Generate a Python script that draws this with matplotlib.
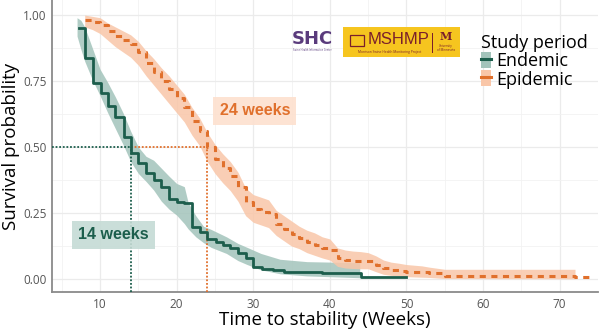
import matplotlib.pyplot as plt
from matplotlib.patches import Patch, Rectangle
from matplotlib.lines import Line2D
from matplotlib.ticker import MultipleLocator

plt.rcParams['font.family'] = ['Open Sans', 'DejaVu Sans']

# endemic Kaplan-Meier steps
end_t = [7.2, 8.0, 9.1, 10.1, 11.1, 12.0, 13.1, 14.0, 15.0, 16.0, 17.0, 18.0, 19.0,
         20.0, 21.0, 22.0, 23.0, 24.0, 25.2, 26.1, 27.0, 28.0, 29.0, 30.0, 31.1,
         32.6, 34.0, 39.0, 44.0, 50.0]
end_s = [0.952, 0.836, 0.744, 0.703, 0.657, 0.612, 0.539, 0.478, 0.438, 0.400, 0.375,
         0.350, 0.302, 0.293, 0.287, 0.196, 0.179, 0.152, 0.141, 0.129, 0.116, 0.100,
         0.078, 0.047, 0.040, 0.034, 0.028, 0.022, 0.009, 0.009]
# endemic confidence band
end_band_t = [7.0, 7.5, 8.0, 9.0, 10.0, 11.0, 12.0, 13.0, 14.0, 15.0, 16.0, 17.0, 18.0,
              19.0, 20.0, 21.0, 21.5, 22.5, 23.5, 24.5, 26.5, 28.0, 29.2, 31.0, 33.5,
              37.0, 43.9]
end_lo = [0.920, 0.870, 0.825, 0.755, 0.695, 0.630, 0.570, 0.510, 0.445, 0.400, 0.370,
          0.337, 0.295, 0.265, 0.242, 0.210, 0.190, 0.160, 0.138, 0.120, 0.097, 0.070,
          0.055, 0.035, 0.020, 0.012, 0.005]
end_hi = [0.990, 0.980, 0.955, 0.875, 0.795, 0.745, 0.690, 0.630, 0.560, 0.500, 0.465,
          0.450, 0.420, 0.390, 0.362, 0.350, 0.290, 0.240, 0.200, 0.188, 0.160, 0.135,
          0.120, 0.097, 0.075, 0.066, 0.062]

# epidemic curve
epi_t = [8, 9, 10, 11, 12, 13, 14, 15, 16, 17, 18, 19, 20, 21, 22, 23, 24, 25, 26, 27,
         28, 29, 30, 31, 32, 33, 34, 35, 36, 37, 38, 39, 40, 41, 42, 43, 44, 45, 46, 47,
         48, 49, 50, 52, 53, 55, 72, 74]
epi_s = [0.981, 0.975, 0.962, 0.940, 0.920, 0.905, 0.890, 0.860, 0.820, 0.785, 0.750,
         0.720, 0.685, 0.650, 0.600, 0.560, 0.500, 0.455, 0.420, 0.390, 0.350, 0.290,
         0.265, 0.255, 0.245, 0.210, 0.190, 0.170, 0.155, 0.140, 0.130, 0.118, 0.110,
         0.080, 0.073, 0.070, 0.069, 0.069, 0.055, 0.042, 0.036, 0.032, 0.028, 0.025,
         0.022, 0.013, 0.006, 0.006]
epi_band_t = epi_t[:-1]
epi_lo = [0.955, 0.945, 0.930, 0.905, 0.880, 0.860, 0.840, 0.810, 0.770, 0.735, 0.700,
          0.665, 0.630, 0.595, 0.545, 0.505, 0.445, 0.400, 0.365, 0.335, 0.295, 0.240,
          0.215, 0.205, 0.195, 0.165, 0.145, 0.125, 0.115, 0.100, 0.090, 0.080, 0.072,
          0.048, 0.042, 0.040, 0.039, 0.039, 0.028, 0.018, 0.014, 0.012, 0.009, 0.007,
          0.006, 0.002, 0.001]
epi_hi = [1.000, 0.995, 0.990, 0.970, 0.955, 0.940, 0.925, 0.900, 0.865, 0.835, 0.800,
          0.770, 0.735, 0.700, 0.650, 0.610, 0.555, 0.510, 0.475, 0.445, 0.405, 0.345,
          0.320, 0.310, 0.300, 0.260, 0.240, 0.220, 0.200, 0.185, 0.175, 0.160, 0.152,
          0.118, 0.110, 0.106, 0.104, 0.100, 0.088, 0.072, 0.064, 0.060, 0.055, 0.050,
          0.045, 0.037, 0.037]

medians = [14, 24]
median_labels = ['14 weeks', '24 weeks']
groups = ['Endemic', 'Epidemic']

green = '#1c5e4c'
green_band = '#a3c4bb'
orange = '#e0702c'
orange_band = '#f9c6a8'

fig = plt.figure(figsize=(6, 3.32), dpi=100)
ax = fig.add_axes([52/600, 40/332, 546/600, 292/332])

ax.fill_between(end_band_t, end_lo, end_hi, color=green_band, alpha=0.85, lw=0, zorder=2)
ax.fill_between(epi_band_t, epi_lo, epi_hi, color=orange_band, alpha=0.85, lw=0, zorder=2)
ax.plot(end_t, end_s, drawstyle='steps-post', color=green, lw=2.0, zorder=4)
ax.plot(epi_t, epi_s, drawstyle='steps-post', color=orange, lw=2.2,
        linestyle=(0, (2, 1.8)), zorder=4)

ymin, ymax = -0.049, 1.057
ax.set_xlim(3.73, 75.0)
ax.set_ylim(ymin, ymax)

# median lines
ax.plot([3.73, medians[0]], [0.5, 0.5], color=green, lw=1.3, linestyle=(0, (1, 1)), zorder=3)
ax.plot([medians[0], medians[1]], [0.5, 0.5], color=orange, lw=1.3, linestyle=(0, (1, 1)), zorder=3)
ax.plot([medians[0], medians[0]], [ymin, 0.5], color=green, lw=1.3, linestyle=(0, (1, 1)), zorder=3)
ax.plot([medians[1], medians[1]], [ymin, 0.5], color=orange, lw=1.3, linestyle=(0, (1, 1)), zorder=3)

ax.text(11.76, 0.167, median_labels[0], color=green, fontsize=11.5, fontweight='bold',
        family='Liberation Sans', ha='center', va='center', zorder=5,
        bbox=dict(boxstyle='square,pad=0.4', fc='#c5dbd5', ec='none', alpha=0.9))
ax.text(30.2, 0.638, median_labels[1], color=orange, fontsize=11.5, fontweight='bold',
        family='Liberation Sans', ha='center', va='center', zorder=5,
        bbox=dict(boxstyle='square,pad=0.4', fc='#fde0cf', ec='none', alpha=0.9))

ax.xaxis.set_major_locator(MultipleLocator(10))
ax.xaxis.set_minor_locator(MultipleLocator(5))
ax.yaxis.set_major_locator(MultipleLocator(0.25))
ax.yaxis.set_minor_locator(MultipleLocator(0.125))
ax.set_yticks([0, 0.25, 0.5, 0.75, 1.0])
ax.set_yticklabels(['0.00', '0.25', '0.50', '0.75', '1.00'])
ax.grid(which='major', color='#ebebeb', lw=0.9)
ax.grid(which='minor', color='#f2f2f2', lw=0.6)
ax.set_axisbelow(True)
ax.tick_params(which='both', length=0, labelsize=8.5, labelcolor='#555555', pad=4)
for s in ['top', 'right']:
    ax.spines[s].set_visible(False)
for s in ['left', 'bottom']:
    ax.spines[s].set_color('#8a8a8a')
    ax.spines[s].set_linewidth(1.3)

ax.set_xlabel('Time to stability (Weeks)', fontsize=13.5, labelpad=0)
ax.set_ylabel('Survival probability', fontsize=13.5, labelpad=2)

handles = [(Patch(fc=green_band, ec='none'), Line2D([], [], color=green, lw=2.2)),
           (Patch(fc=orange_band, ec='none'), Line2D([], [], color=orange, lw=2.2))]
leg = ax.legend(handles, groups, title='Study period', loc='upper left',
                bbox_to_anchor=(472/600, 1 - 25/332), bbox_transform=fig.transFigure,
                frameon=False, fontsize=13, title_fontsize=13, handlelength=0.55,
                handleheight=1.0, handletextpad=0.3, labelspacing=0.0, borderpad=0,
                alignment='left')

# logos
fig.text(312/600, 1 - 39/332, 'SHC', color='#5a3b7c', fontsize=13, fontweight='bold',
         family='DejaVu Sans', ha='center', va='center')
fig.text(312/600, 1 - 50/332, 'Swine Health Information Center', color='#5a3b7c',
         fontsize=1.8, ha='center', va='center')
fig.patches.append(Rectangle((343/600, 1 - 57/332), 117/600, 30/332, fc='#f6c51f',
                             ec='none', transform=fig.transFigure, figure=fig))
fig.patches.append(Rectangle((350/600, 1 - 46/332), 14/600, 11/332, fc='none',
                             ec='#7a1f2b', lw=0.9, transform=fig.transFigure, figure=fig))
fig.text(399/600, 1 - 40/332, 'MSHMP', color='#7a1f2b', fontsize=12,
         family='Liberation Sans', ha='center', va='center')
fig.text(390/600, 1 - 52/332, 'Morrison Swine Health Monitoring Project', color='#7a1f2b',
         fontsize=2.3, ha='center', va='center')
fig.patches.append(Rectangle((432/600, 1 - 53/332), 0.8/600, 20/332, fc='#7a1f2b',
                             ec='none', transform=fig.transFigure, figure=fig))
fig.text(446/600, 1 - 37/332, 'M', color='#7a1f2b', fontsize=8, fontweight='bold',
         family='DejaVu Serif', ha='center', va='center')
fig.text(446/600, 1 - 48/332, 'University\nof Minnesota', color='#7a1f2b',
         fontsize=2.2, ha='center', va='center', linespacing=1.0)

fig.savefig('out.png', dpi=100)
